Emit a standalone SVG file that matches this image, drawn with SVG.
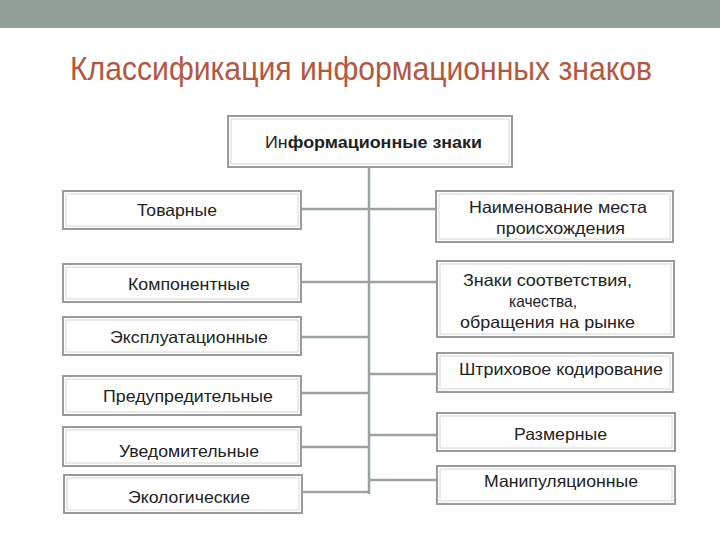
<svg xmlns="http://www.w3.org/2000/svg" width="720" height="540" viewBox="0 0 720 540">
<style>
.box{fill:#fff;stroke:#9a9a9a;stroke-width:2}
.inner{fill:none;stroke:#d6d6d6;stroke-width:1}
.t{font-family:"Liberation Sans",Arial,sans-serif;font-size:16.5px;fill:#222}
.conn{stroke:#9aa39d;stroke-width:2.5;fill:none}
.title{font-family:"Liberation Sans",Arial,sans-serif;font-size:34px;fill:#b4573e}
</style>
<rect x="0" y="0" width="720" height="540" fill="#fff"/>
<rect x="0" y="0" width="720" height="28" fill="#919f96"/>
<text class="title" x="70" y="80" textLength="582" lengthAdjust="spacingAndGlyphs">Классификация информационных знаков</text>
<g id="connectors">
<path class="conn" d="M369,167 V494"/>
<path class="conn" d="M301,209 H436"/>
<path class="conn" d="M301,282 H437"/>
<path class="conn" d="M301,337 H369"/>
<path class="conn" d="M301,393 H369"/>
<path class="conn" d="M301,447 H369"/>
<path class="conn" d="M302,492 H369"/>
<path class="conn" d="M369,374 H437"/>
<path class="conn" d="M369,435 H437"/>
<path class="conn" d="M369,480 H437"/>
</g>
<g id="root">
<rect class="box" x="228" y="116" width="284" height="51"/>
<rect class="inner" x="231" y="119" width="278" height="45"/>
<text class="t" x="265" y="148" textLength="217" lengthAdjust="spacingAndGlyphs">Ин<tspan font-weight="bold">формационные знаки</tspan></text>
</g>
<g id="tovarnye">
<rect class="box" x="63" y="191" width="238" height="38"/>
<rect class="inner" x="66" y="194" width="232" height="32"/>
<text class="t" x="137" y="216" textLength="80" lengthAdjust="spacingAndGlyphs">Товарные</text>
</g>
<g id="komponentnye">
<rect class="box" x="63" y="264" width="238" height="38"/>
<rect class="inner" x="66" y="267" width="232" height="32"/>
<text class="t" x="128" y="290" textLength="122" lengthAdjust="spacingAndGlyphs">Компонентные</text>
</g>
<g id="ekspluatacionnye">
<rect class="box" x="63" y="317" width="238" height="38"/>
<rect class="inner" x="66" y="320" width="232" height="32"/>
<text class="t" x="110" y="343" textLength="158" lengthAdjust="spacingAndGlyphs">Эксплуатационные</text>
</g>
<g id="predupreditelnye">
<rect class="box" x="63" y="376" width="238" height="39"/>
<rect class="inner" x="66" y="379" width="232" height="33"/>
<text class="t" x="103" y="402" textLength="170" lengthAdjust="spacingAndGlyphs">Предупредительные</text>
</g>
<g id="uvedomitelnye">
<rect class="box" x="63" y="427" width="238" height="39"/>
<rect class="inner" x="66" y="430" width="232" height="33"/>
<text class="t" x="119" y="457" textLength="140" lengthAdjust="spacingAndGlyphs">Уведомительные</text>
</g>
<g id="ekologicheskie">
<rect class="box" x="64" y="475" width="238" height="38"/>
<rect class="inner" x="67" y="478" width="232" height="32"/>
<text class="t" x="128" y="503" textLength="122" lengthAdjust="spacingAndGlyphs">Экологические</text>
</g>
<g id="naimenovanie">
<rect class="box" x="436" y="191" width="237" height="51"/>
<rect class="inner" x="439" y="194" width="231" height="45"/>
<text class="t" x="469" y="213" textLength="178" lengthAdjust="spacingAndGlyphs">Наименование места</text>
<text class="t" x="496" y="234" textLength="129" lengthAdjust="spacingAndGlyphs">происхождения</text>
</g>
<g id="znaki-sootvetstviya">
<rect class="box" x="437" y="261" width="237" height="76"/>
<rect class="inner" x="440" y="264" width="231" height="70"/>
<text class="t" x="463" y="286" textLength="169" lengthAdjust="spacingAndGlyphs">Знаки соответствия,</text>
<text class="t" x="509" y="307" textLength="68" lengthAdjust="spacingAndGlyphs">качества,</text>
<text class="t" x="460" y="328" textLength="175" lengthAdjust="spacingAndGlyphs">обращения на рынке</text>
</g>
<g id="shtrihovoe">
<rect class="box" x="437" y="353" width="236" height="39"/>
<rect class="inner" x="440" y="356" width="230" height="33"/>
<text class="t" x="459" y="375" textLength="204" lengthAdjust="spacingAndGlyphs">Штриховое кодирование</text>
</g>
<g id="razmernye">
<rect class="box" x="437" y="413" width="238" height="38"/>
<rect class="inner" x="440" y="416" width="232" height="32"/>
<text class="t" x="514" y="440" textLength="93" lengthAdjust="spacingAndGlyphs">Размерные</text>
</g>
<g id="manipulyacionnye">
<rect class="box" x="437" y="466" width="238" height="38"/>
<rect class="inner" x="440" y="469" width="232" height="32"/>
<text class="t" x="484" y="487" textLength="154" lengthAdjust="spacingAndGlyphs">Манипуляционные</text>
</g>
</svg>
